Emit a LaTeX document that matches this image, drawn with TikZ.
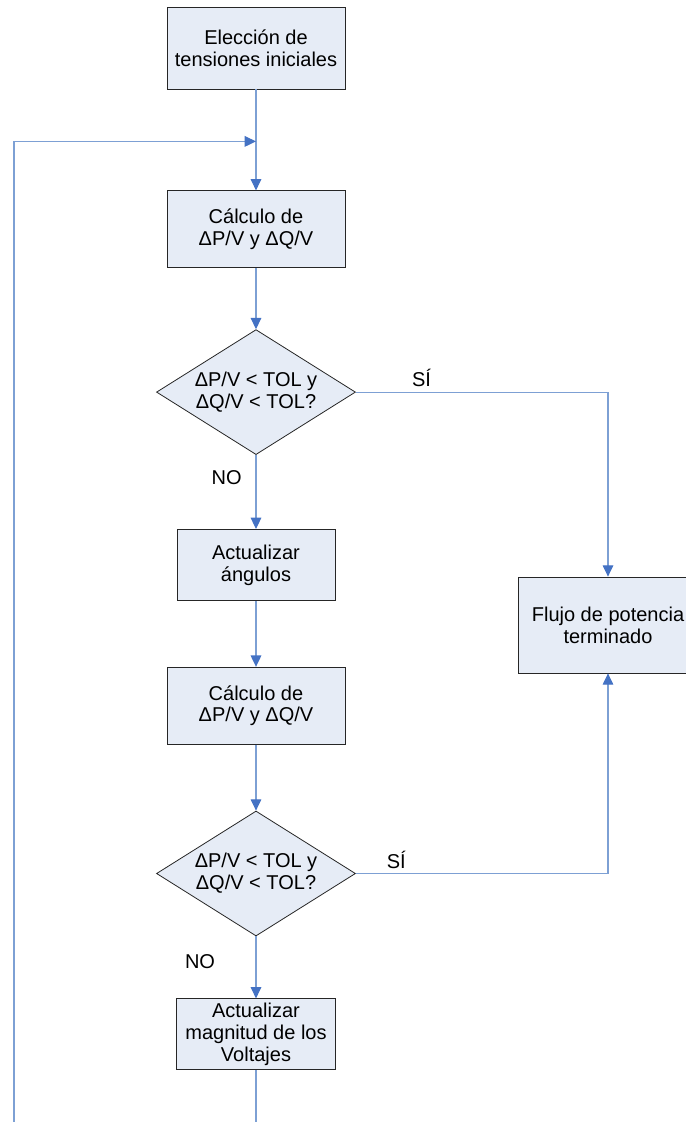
\documentclass[tikz,border=0pt]{standalone}
\usepackage{fontspec}
\setmainfont{Liberation Sans}
\usetikzlibrary{shapes.geometric,arrows.meta,positioning,calc}
\definecolor{azulRelleno}{RGB}{230,236,246}
\definecolor{azulLinea}{RGB}{125,160,212}
\definecolor{azulPunta}{RGB}{68,114,196}
\tikzset{
  caja/.style={rectangle, draw=black!85, line width=0.6pt, fill=azulRelleno,
               minimum width=133.5pt, minimum height=57.75pt, inner sep=2pt,
               align=center, font=\fontsize{15}{16.5}\selectfont},
  decision/.style={diamond, draw=black!85, line width=0.6pt, fill=azulRelleno,
                   aspect=1.6, inner sep=0pt, minimum width=149.25pt,
                   minimum height=93.75pt, align=center,
                   font=\fontsize{15}{16.5}\selectfont},
  etiqueta/.style={text=black, font=\fontsize{15}{16.5}\selectfont},
  flecha/.style={-{Triangle[length=8.5pt,width=8pt,color=azulPunta]},
                 line width=0.8pt, azulLinea},
  linea/.style={line width=0.8pt, azulLinea},
}
\begin{document}
\begin{tikzpicture}
  \useasboundingbox (0,0) rectangle (514.5pt,-841.5pt);

  \node[caja, minimum height=61.5pt] (ini) at (192pt,-36pt)
       {Elección de\\tensiones iniciales};
  \node[caja, below=75.75pt of ini] (calc1) {Cálculo de\\ΔP/V y ΔQ/V};
  \node[decision, below=45.75pt of calc1] (dec1) {ΔP/V < TOL y\\ΔQ/V < TOL?};
  \node[caja, minimum width=118.5pt, minimum height=53.25pt, below=55.5pt of dec1] (ang)
       {Actualizar\\ángulos};
  \node[caja, below=49.5pt of ang] (calc2) {Cálculo de\\ΔP/V y ΔQ/V};
  \node[decision, below=49.5pt of calc2] (dec2) {ΔP/V < TOL y\\ΔQ/V < TOL?};
  \node[caja, minimum width=119.25pt, minimum height=53.25pt, below=46.5pt of dec2] (volt)
       {Actualizar\\magnitud de los\\Voltajes};
  \node[caja, minimum width=135pt, minimum height=72pt] (fin) at (456pt,-468.75pt)
       {Flujo de potencia\\terminado};

  \coordinate (union) at ($(ini.south)+(0,-39pt)$);
  \coordinate (bajoIzq) at (10.5pt,-841.5pt);
  \coordinate (bajo) at (volt.south |- bajoIzq);

  \draw[flecha] (ini) -- (calc1);
  \draw[flecha] (bajoIzq) |- (union);
  \draw[flecha] (calc1) -- (dec1);
  \draw[flecha] (dec1) -- node[etiqueta, left=7pt, pos=0.31] {NO} (ang);
  \draw[flecha] (dec1.east) -| node[etiqueta, above, pos=0.13] {SÍ} (fin.north);
  \draw[flecha] (ang) -- (calc2);
  \draw[flecha] (calc2) -- (dec2);
  \draw[flecha] (dec2) -- node[etiqueta, left=27pt, pos=0.41] {NO} (volt);
  \draw[flecha] (dec2.east) -| node[etiqueta, above, pos=0.08] {SÍ} (fin.south);
  \draw[linea] (volt) -- (bajo);
\end{tikzpicture}
\end{document}
